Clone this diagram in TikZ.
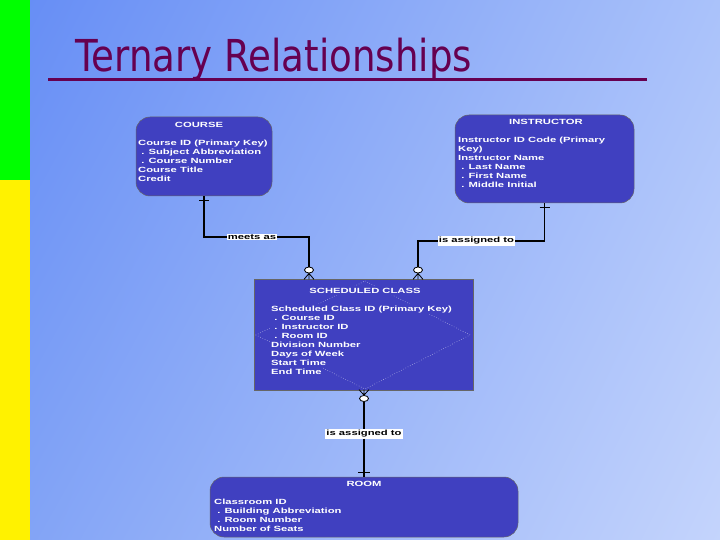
\documentclass[tikz,border=0pt]{standalone}
\usepackage{fontspec}
\setmainfont{Liberation Sans}
\newfontfamily\boxfont{Liberation Sans}[FakeStretch=1.5]
\newfontfamily\titlefont{DejaVu Sans}[FakeStretch=0.845]
\usetikzlibrary{shapes.geometric,shadings}

\definecolor{boxblue}{RGB}{64,64,192}
\definecolor{titlepurple}{RGB}{102,0,80}

\tikzset{
  entity/.style={fill=boxblue, draw=black!60, line width=0.5pt, rounded corners=14pt, inner sep=0pt},
  hdr/.style={text=white, font=\boxfont\bfseries\fontsize{7.5}{9}\selectfont, inner sep=0pt},
  attrs/.style={hdr, align=left, anchor=north west},
  rel/.style={draw=black, line width=1.2pt},
  foot/.style={draw=black, line width=0.8pt},
  rellabel/.style={fill=white, text=black, font=\boxfont\bfseries\fontsize{7.5}{9}\selectfont, inner sep=1pt},
  opt/.style={ellipse, draw=black, fill=white, line width=0.8pt, minimum width=9pt, minimum height=6pt, inner sep=0pt}
}

\begin{document}
\begin{tikzpicture}[x=1pt,y=-1pt]
    \useasboundingbox (0,0) rectangle (720,540);
    % Slide background
    \shade[upper left={rgb,255:red,100;green,140;blue,245}, upper right={rgb,255:red,170;green,194;blue,250},
           lower left={rgb,255:red,128;green,162;blue,246}, lower right={rgb,255:red,196;green,212;blue,252}]
        (0,0) rectangle (720,540);
    \fill[green] (0,0) rectangle (30,180);
    \fill[yellow] (0,180) rectangle (30,540);

    % Title
    \node[anchor=base west, text=titlepurple, inner sep=0pt, font=\titlefont\fontsize{44}{44}\selectfont] (title) at (75,72) {Ternary Relationships};
    \draw[titlepurple, line width=3pt] (48,79.5) -- (647,79.5);

    % Entities
    \node[entity, minimum width=136pt, minimum height=79pt] (course) at (204,156.5) {};
    \node[hdr] (coursehdr) at (199,125) {COURSE};
    \node[attrs] (courseattr) at (138,140) {Course ID (Primary Key)\\\ . Subject Abbreviation\\\ . Course Number\\Course Title\\Credit};

    \node[entity, minimum width=179pt, minimum height=88pt] (instr) at (544.5,159) {};
    \node[hdr] (instrhdr) at (546,121.5) {INSTRUCTOR};
    \node[attrs] (instrattr) at (458,137) {Instructor ID Code (Primary\\Key)\\Instructor Name\\\ . Last Name\\\ . First Name\\\ . Middle Initial};

    \node[entity, rounded corners=0pt, minimum width=219pt, minimum height=111pt] (sched) at (363.5,334.5) {};
    \draw[white!75!boxblue, dotted, line width=0.5pt] (365,281) -- (470,335) -- (365,389) -- (256,335) -- cycle;
    \node[hdr, fill=boxblue, inner xsep=1pt, inner ysep=2pt] (schedhdr) at (365,290.5) {SCHEDULED CLASS};
    \foreach \txt [count=\i] in {Scheduled Class ID (Primary Key),\ . Course ID,\ . Instructor ID,\ . Room ID,
                                 Division Number,Days of Week,Start Time,End Time}
        \node[hdr, fill=boxblue, inner xsep=1pt, inner ysep=1.5pt, anchor=base west] (schedattr\i) at (270,302+9*\i) {\txt};

    \node[entity, minimum width=308pt, minimum height=60pt] (room) at (364,507) {};
    \node[hdr] (roomhdr) at (364,483.5) {ROOM};
    \node[attrs] (roomattr) at (214,498.5) {Classroom ID\\\ . Building Abbreviation\\\ . Room Number\\Number of Seats};

    % Optionality circles
    \node[opt] (o1) at (309,270) {};
    \node[opt] (o2) at (418,270) {};
    \node[opt] (o3) at (364,398.5) {};

    % Relationship labels
    \node[rellabel] (meets) at (252,237) {meets as};
    \node[rellabel] (assign1) at (476.5,241) {is assigned to};
    \node[rellabel] (assign2) at (364,434) {is assigned to};

    % Edges
    \draw[rel] (course.south) |- (meets.west);
    \draw[rel] (meets.east) -| (o1.north);
    \draw[rel] (instr.south) |- (assign1.east);
    \draw[rel] (assign1.west) -| (o2.north);
    \draw[rel] (o3.south) -- (assign2.north);
    \draw[rel] (assign2.south) -- (room.north);

    % Crow's feet and ticks
    \draw[foot] (o1.south) -- ++(-5,6) (o1.south) -- ++(0,6) (o1.south) -- ++(5,6);
    \draw[foot] (o2.south) -- ++(-5,6) (o2.south) -- ++(0,6) (o2.south) -- ++(5,6);
    \draw[foot] (o3.north) -- ++(-5,-5.5) (o3.north) -- ++(0,-5.5) (o3.north) -- ++(5,-5.5);
    \draw[foot] (course.south) ++(-5,4) -- ++(10,0);
    \draw[foot] (instr.south) ++(-5,4) -- ++(10,0);
    \draw[foot] (room.north) ++(-6,-4) -- ++(12,0);
\end{tikzpicture}
\end{document}
